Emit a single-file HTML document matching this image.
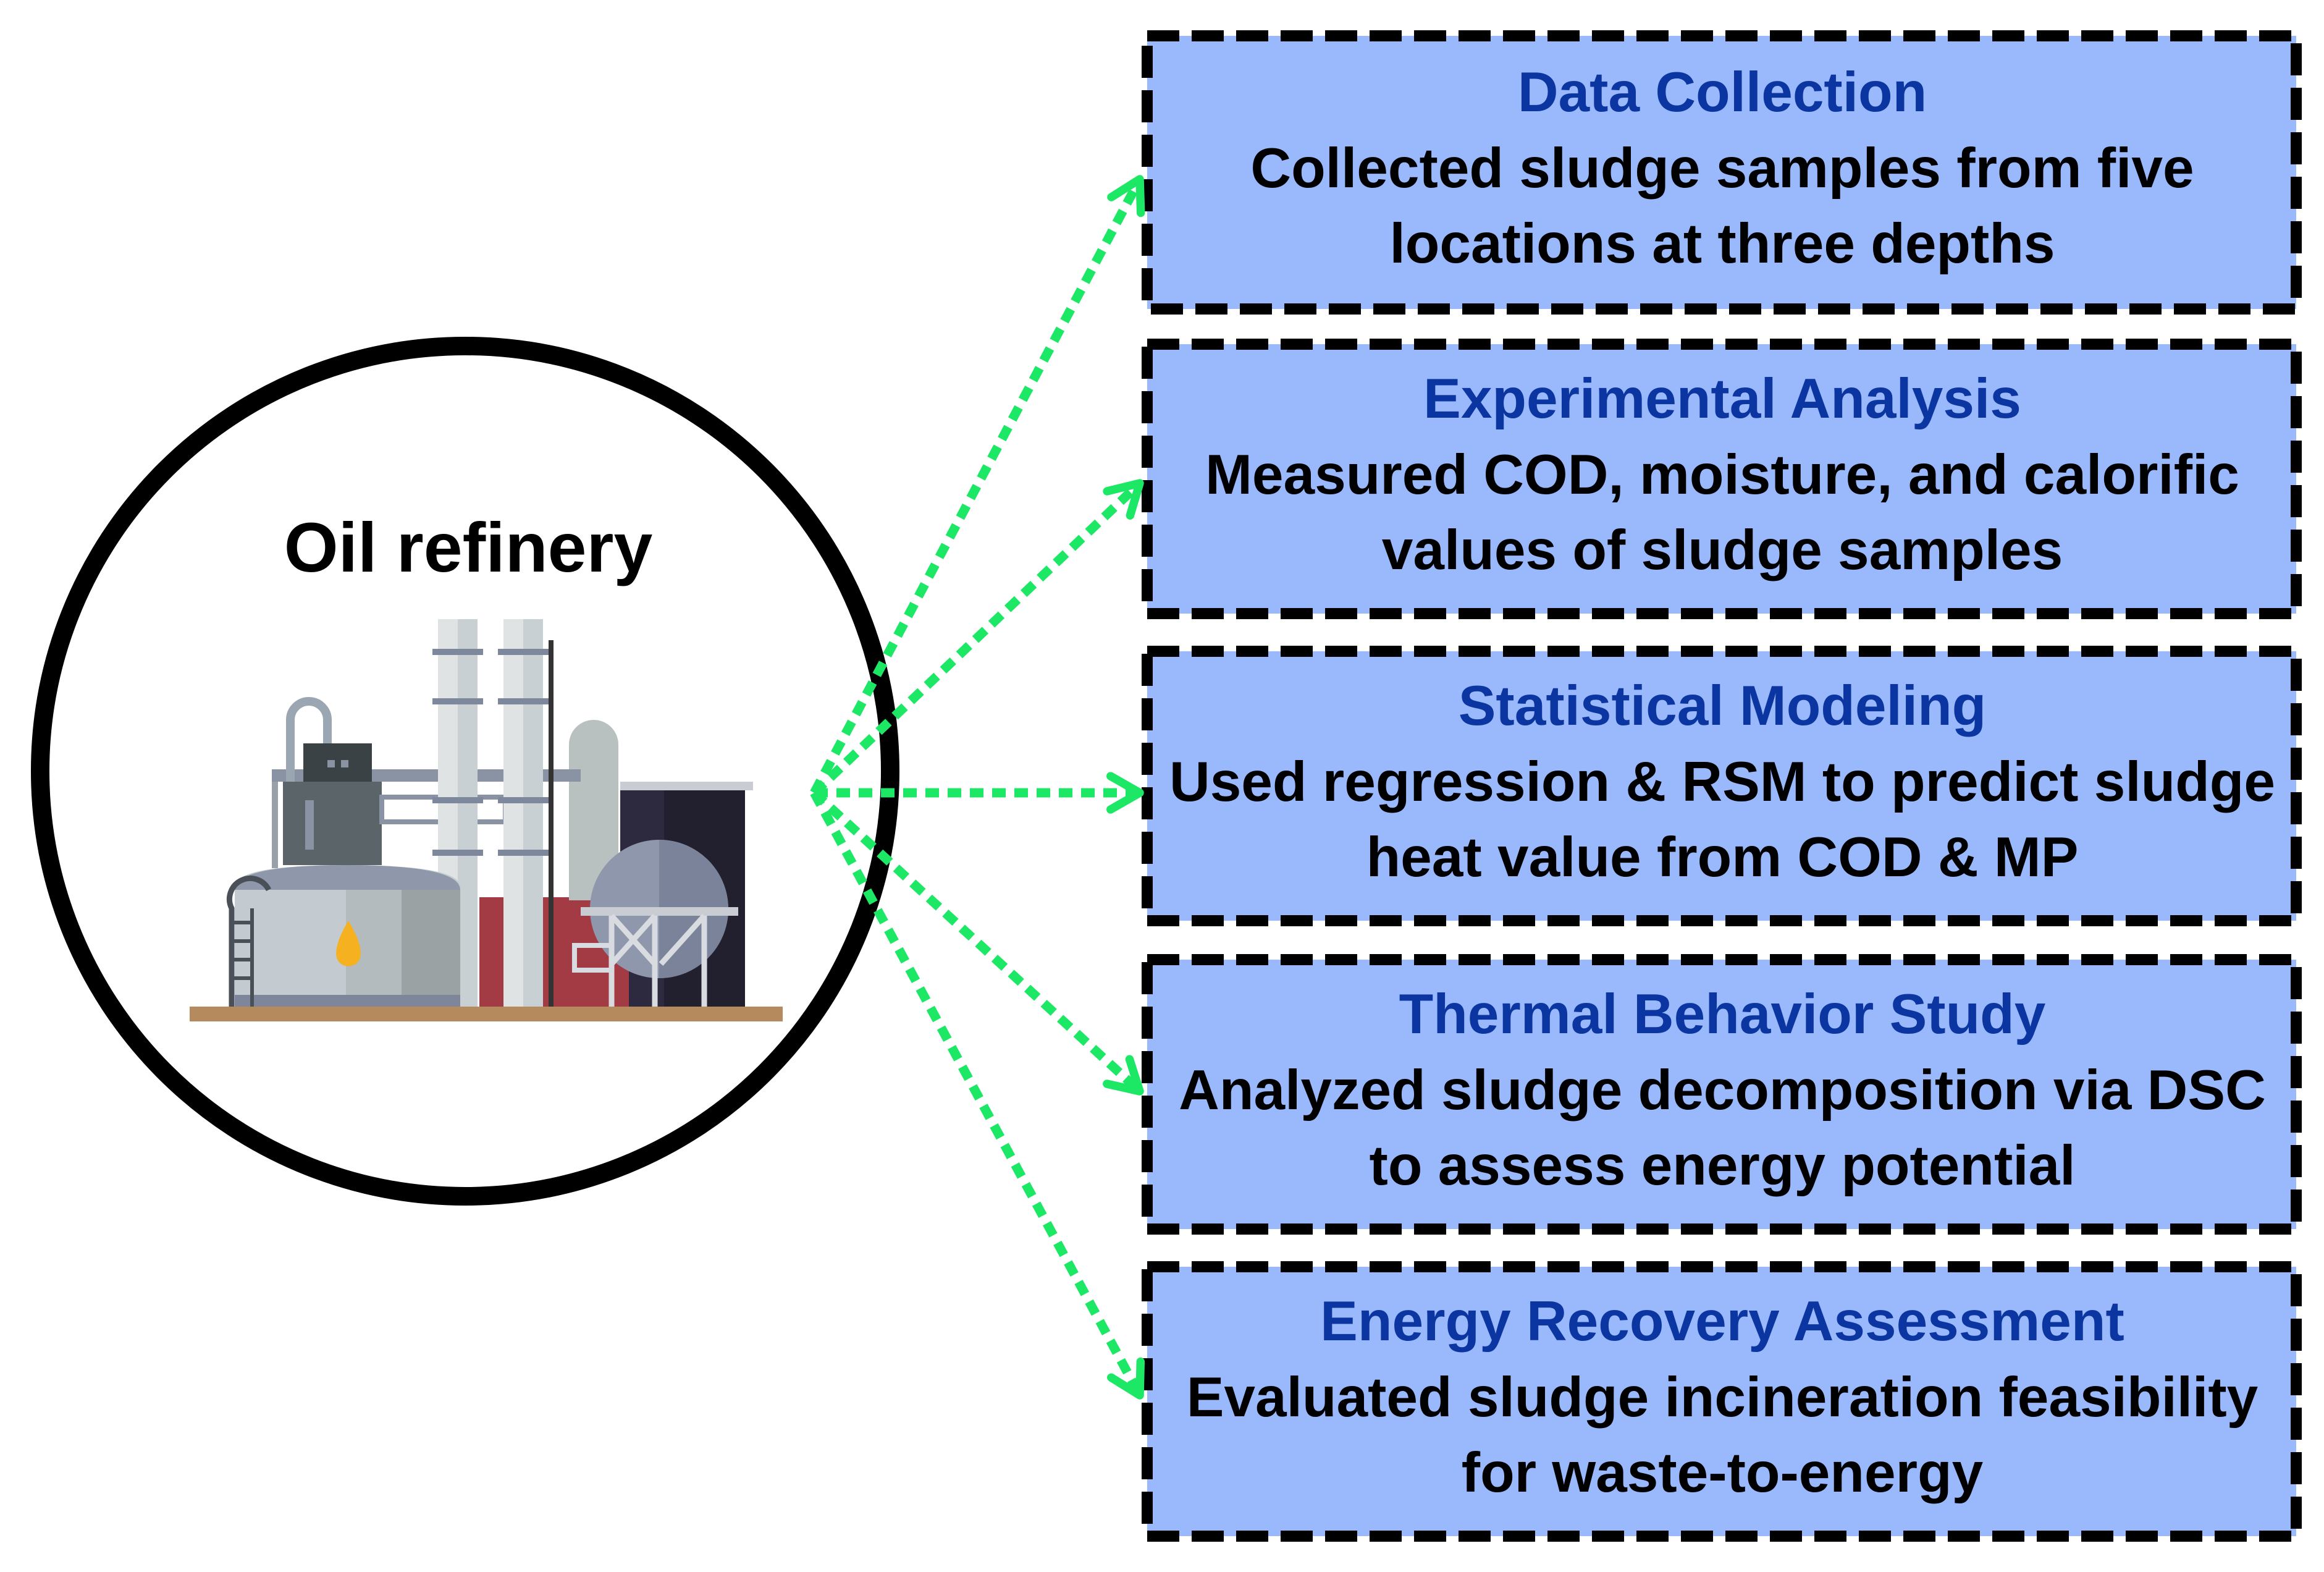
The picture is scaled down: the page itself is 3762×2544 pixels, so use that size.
<!DOCTYPE html>
<html><head><meta charset="utf-8"><style>
html,body{margin:0;padding:0;background:#fff}
svg{display:block}
text{font-family:"Liberation Sans",Arial,sans-serif;font-weight:bold;text-anchor:middle}
.t{fill:#0b35a0;font-size:91px}
.b{fill:#000;font-size:91px}
</style></head><body>
<svg width="3762" height="2544" viewBox="0 0 3762 2544" xmlns="http://www.w3.org/2000/svg">
<defs>
<marker id="ah" viewBox="0 0 20 20" refX="17" refY="10" markerWidth="4.5" markerHeight="4.5" orient="auto" markerUnits="strokeWidth">
<path d="M3,2 L17,10 L3,18" fill="none" stroke="#1de866" stroke-width="4" stroke-linecap="round" stroke-linejoin="round"/>
</marker>
</defs>
<g fill="#9ab8fc" stroke="#000" stroke-width="18" stroke-dasharray="52 20">
<rect x="1857" y="58" width="1860" height="442"/>
<rect x="1857" y="557" width="1860" height="436"/>
<rect x="1857" y="1054" width="1860" height="436"/>
<rect x="1857" y="1553" width="1860" height="436"/>
<rect x="1857" y="2050" width="1860" height="436"/>
</g>
<text class="t" x="2788" y="180">Data Collection</text>
<text class="b" x="2788" y="303">Collected sludge samples from five</text>
<text class="b" x="2788" y="425">locations at three depths</text>
<text class="t" x="2788" y="676">Experimental Analysis</text>
<text class="b" x="2788" y="799">Measured COD, moisture, and calorific</text>
<text class="b" x="2788" y="921">values of sludge samples</text>
<text class="t" x="2788" y="1173">Statistical Modeling</text>
<text class="b" x="2788" y="1296">Used regression &amp; RSM to predict sludge</text>
<text class="b" x="2788" y="1418">heat value from COD &amp; MP</text>
<text class="t" x="2788" y="1672">Thermal Behavior Study</text>
<text class="b" x="2788" y="1795">Analyzed sludge decomposition via DSC</text>
<text class="b" x="2788" y="1917">to assess energy potential</text>
<text class="t" x="2788" y="2169">Energy Recovery Assessment</text>
<text class="b" x="2788" y="2292">Evaluated sludge incineration feasibility</text>
<text class="b" x="2788" y="2414">for waste-to-energy</text>
<circle cx="753" cy="1248" r="688" fill="#fff" stroke="#000" stroke-width="30"/>
<text x="758" y="925" style="font-size:113px;fill:#000">Oil refinery</text>
<g>
<rect x="307" y="1629" width="960" height="24" fill="#b58a5c"/>
<rect x="1004" y="1265" width="202" height="364" fill="#2d2a3f"/>
<rect x="1075" y="1265" width="131" height="364" fill="#22202f"/>
<rect x="1004" y="1265" width="215" height="14" fill="#c9ccd2"/>
<rect x="776" y="1452" width="242" height="177" fill="#a33b45"/>
<path d="M921,1457 V1205 a40,40 0 0 1 80,0 V1457 Z" fill="#b8c0c0"/>
<rect x="440" y="1245" width="10" height="160" fill="#9aa0a8"/>
<rect x="440" y="1245" width="500" height="20" fill="#8a93a3"/>
<path d="M470,1265 V1165 a30,30 0 0 1 60,0 V1210" fill="none" stroke="#9aa6b2" stroke-width="14"/>
<rect x="458" y="1265" width="160" height="135" fill="#5b6569"/>
<rect x="491" y="1203" width="111" height="62" fill="#3b4246"/>
<rect x="530" y="1230" width="12" height="12" fill="#8a93a3"/><rect x="552" y="1230" width="12" height="12" fill="#8a93a3"/>
<rect x="494" y="1295" width="14" height="80" fill="#8a93a3"/>
<rect x="618" y="1290" width="200" height="40" fill="none" stroke="#8a93a3" stroke-width="8"/>
<rect x="709" y="1002" width="64" height="627" fill="#dfe3e4"/>
<rect x="741" y="1002" width="32" height="627" fill="#c8d0d4"/>
<rect x="815" y="1002" width="64" height="627" fill="#dfe3e4"/>
<rect x="847" y="1002" width="32" height="627" fill="#c8d0d4"/>
<g fill="#7d889c"><rect x="700" y="1050" width="82" height="10"/><rect x="806" y="1050" width="82" height="10"/><rect x="700" y="1130" width="82" height="10"/><rect x="806" y="1130" width="82" height="10"/><rect x="700" y="1290" width="82" height="10"/><rect x="806" y="1290" width="82" height="10"/><rect x="700" y="1375" width="82" height="10"/><rect x="806" y="1375" width="82" height="10"/></g>
<rect x="888" y="1036" width="8" height="593" fill="#333"/>
<path d="M380,1629 V1435 Q380,1400 560,1400 Q745,1400 745,1435 V1629 Z" fill="#c3cbd0"/>
<path d="M380,1440 Q380,1400 560,1400 Q745,1400 745,1440 Z" fill="#8f98aa"/>
<rect x="560" y="1440" width="90" height="189" fill="#b3bbbe"/>
<rect x="650" y="1440" width="95" height="189" fill="#9aa2a4"/>
<rect x="380" y="1610" width="365" height="19" fill="#7d869a"/>
<path d="M375,1629 V1470 a30,30 0 0 1 60,-30" fill="none" stroke="#4a5058" stroke-width="9"/>
<g fill="#4a5058"><rect x="375" y="1490" width="35" height="6"/><rect x="375" y="1520" width="35" height="6"/><rect x="375" y="1550" width="35" height="6"/><rect x="375" y="1580" width="35" height="6"/><rect x="405" y="1470" width="6" height="159"/></g>
<path d="M564,1490 Q540,1530 545,1550 a20,20 0 0 0 38,0 Q588,1530 564,1490 Z" fill="#f5b120"/>
<circle cx="1067" cy="1471" r="112" fill="#8e97ab"/>
<path d="M1067,1359 a112,112 0 0 1 0,224 Z" fill="#7a8399"/>
<rect x="940" y="1468" width="255" height="14" fill="#c9ccd2"/>
<g stroke="#d8dbe0" stroke-width="9" fill="none"><path d="M990,1482 V1629 M1060,1482 V1629 M1140,1482 V1629 M990,1482 L1060,1560 M1060,1482 L990,1560 M1140,1482 L1070,1560"/></g>
<rect x="930" y="1530" width="60" height="40" fill="none" stroke="#d8dbe0" stroke-width="8"/>
</g>
<g stroke="#1de866" stroke-width="15" fill="none" stroke-dasharray="22 14" marker-end="url(#ah)">
<path d="M1318,1283 L1845,290"/>
<path d="M1318,1283 L1845,782"/>
<path d="M1318,1283 L1845,1283"/>
<path d="M1318,1283 L1845,1766"/>
<path d="M1318,1283 L1845,2258"/>
</g>
</svg>
</body></html>
